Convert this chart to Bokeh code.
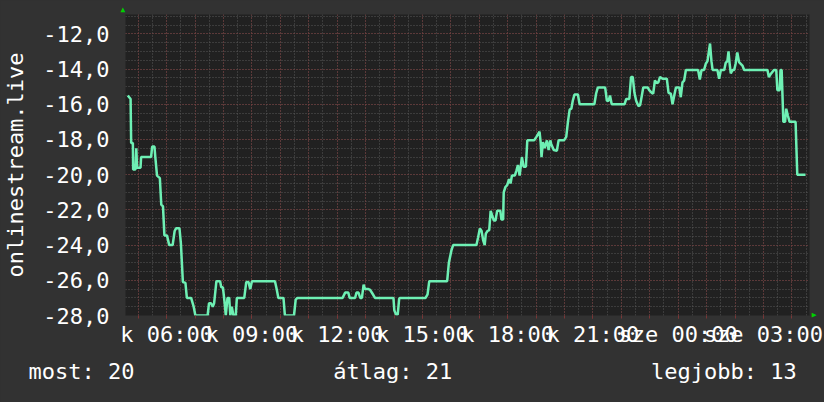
from bokeh.plotting import figure
from bokeh.models import (Range1d, FixedTicker, Grid, Title, GlobalInlineStyleSheet)
from bokeh.embed import file_html
from bokeh.resources import INLINE

# ---- data (hours since day-1 midnight, value) ----
hours = [4.63, 4.73, 4.75, 4.81, 4.82, 4.90, 4.93, 4.96, 5.08, 5.10, 5.45, 5.49, 5.57, 5.60, 5.66, 5.76,
         5.81, 5.87, 5.92, 6.01, 6.09, 6.21, 6.28, 6.33, 6.45, 6.50, 6.57, 6.66, 6.71, 6.86, 6.95, 7.01,
         7.44, 7.49, 7.56, 7.62, 7.67, 7.75, 7.88, 7.92, 7.98, 8.04, 8.08, 8.14, 8.20, 8.24, 8.29, 8.35,
         8.43, 8.47, 8.73, 8.80, 8.88, 8.94, 9.00, 9.81, 9.87, 9.93, 10.11, 10.16, 10.48, 10.54, 10.60,
         12.19, 12.28, 12.39, 12.44, 12.63, 12.68, 12.75, 12.81, 12.87, 12.93, 12.98, 13.10, 13.16, 13.24,
         13.33, 13.98, 14.01, 14.07, 14.13, 14.18, 14.21, 15.11, 15.18, 15.24, 15.87, 15.93, 16.02, 16.08,
         16.90, 16.96, 17.02, 17.08, 17.14, 17.19, 17.23, 17.29, 17.35, 17.40, 17.45, 17.51, 17.57, 17.63,
         17.74, 17.78, 17.84, 17.86, 17.92, 17.98, 18.05, 18.10, 18.15, 18.25, 18.31, 18.36, 18.42, 18.50,
         18.56, 18.64, 18.69, 18.93, 19.01, 19.12, 19.16, 19.19, 19.24, 19.30, 19.38, 19.44, 19.50, 19.53,
         19.62, 19.73, 19.79, 19.98, 20.06, 20.12, 20.18, 20.24, 20.29, 20.35, 20.47, 20.53, 21.05, 21.11,
         21.17, 21.43, 21.49, 21.55, 21.60, 21.66, 22.11, 22.17, 22.28, 22.34, 22.40, 22.46, 22.52, 22.60,
         22.66, 22.71, 22.77, 22.93, 22.98, 23.07, 23.12, 23.18, 23.24, 23.30, 23.36, 23.45, 23.60, 23.66,
         23.74, 23.80, 23.86, 23.92, 24.04, 24.09, 24.15, 24.21, 24.27, 24.70, 24.76, 24.82, 24.91, 24.97,
         25.03, 25.12, 25.17, 25.21, 25.38, 25.44, 25.50, 25.62, 25.67, 25.73, 25.77, 25.81, 25.85, 25.91,
         25.97, 26.02, 26.08, 26.14, 26.26, 26.32, 27.14, 27.19, 27.25, 27.37, 27.45, 27.49, 27.57, 27.60,
         27.64, 27.70, 27.76, 27.80, 27.86, 27.92, 28.13, 28.19, 28.48]
values = [-15.5, -15.7, -18.2, -18.2, -19.7, -19.7, -18.5, -19.6, -19.6, -19.0, -19.0, -18.4, -18.4, -19.0, -20.05, -20.2,
          -21.7, -21.8, -23.45, -23.45, -24.0, -24.0, -23.2, -23.05, -23.05, -23.9, -26.1, -26.15, -27.0, -27.0, -27.5, -28.0,
          -28.0, -27.3, -27.3, -27.5, -27.3, -26.05, -26.05, -26.4, -26.4, -27.3, -28.0, -27.0, -27.0, -28.0, -27.5, -28.0,
          -28.0, -27.0, -27.0, -26.1, -26.1, -26.5, -26.05, -26.05, -26.5, -27.0, -27.0, -28.0, -28.0, -27.1, -27.0,
          -27.0, -26.7, -26.7, -27.0, -27.0, -26.7, -26.7, -27.0, -27.0, -26.25, -26.5, -26.5, -26.55, -26.75,
          -27.0, -27.0, -27.7, -27.95, -27.95, -27.05, -27.0, -27.0, -26.8, -26.05, -26.05, -25.0, -24.3, -24.0,
          -24.0, -23.55, -23.05, -23.2, -23.75, -24.0, -23.35, -23.2, -23.15, -22.05, -22.3, -22.6, -22.6, -22.05,
          -22.05, -22.55, -22.55, -21.0, -20.7, -20.6, -20.25, -20.5, -20.05, -20.05, -19.75, -19.45, -20.05, -19.0,
          -19.55, -19.55, -18.05, -18.05, -17.85, -17.55, -18.15, -19.0, -18.15, -18.5, -18.05, -18.6, -18.05, -18.25,
          -18.6, -18.65, -18.05, -18.05, -17.85, -17.0, -16.3, -16.25, -15.8, -15.45, -15.45, -16.0, -16.0, -15.4,
          -15.05, -15.05, -15.8, -15.8, -15.5, -16.0, -16.0, -15.7, -15.7, -14.45, -14.45, -15.35, -15.8, -16.1,
          -16.05, -15.6, -15.05, -15.05, -15.2, -15.35, -15.4, -14.65, -14.8, -14.75, -14.45, -14.55, -14.55, -15.35,
          -15.4, -16.0, -15.5, -15.05, -15.05, -15.6, -14.75, -14.65, -14.05, -14.05, -14.6, -14.05, -14.05, -13.7,
          -13.55, -12.55, -13.55, -14.05, -14.05, -14.55, -14.05, -14.05, -13.65, -13.55, -13.0, -13.7, -14.25, -14.05,
          -14.05, -13.7, -13.05, -13.6, -13.8, -14.05, -14.05, -14.45, -14.3, -14.05, -14.05, -15.2, -15.2, -14.05,
          -14.05, -17.0, -17.0, -16.25, -16.65, -17.0, -17.0, -20.0, -20.0]

x_tick_hours = [6, 9, 12, 15, 18, 21, 24, 27]
x_tick_labels = ["k 06:00", "k 09:00", "k 12:00", "k 15:00", "k 18:00", "k 21:00", "sze 00:00", "sze 03:00"]
y_ticks = [-28, -26, -24, -22, -20, -18, -16, -14, -12]
y_tick_labels = ["-28,0", "-26,0", "-24,0", "-22,0", "-20,0", "-18,0", "-16,0", "-14,0", "-12,0"]
y_axis_title = "onlinestream.live"
legend_items = ["most: 20", "átlag: 21", "legjobb: 13"]

# ---- layout / style ----
W, H = 824, 402
FL, FT, FW, FH = 123, 14, 686, 301
X0, X1 = 4.551, 28.62
Y0, Y1 = -28.0, -10.9
BG = "#323232"
CANVAS = "#212121"
FG = "#ffffff"
LINE = "#6ef0b4"
GRID_MINOR = "#585858"
GRID_MAJOR = "#7a3636"
ARROW = "#00d000"
FONT = "DejaVu Sans Mono"
FS = "22px"

p = figure(width=W, height=H, output_backend="svg", toolbar_location=None,
           x_range=Range1d(X0, X1), y_range=Range1d(Y0, Y1),
           min_border_left=FL, min_border_right=W - FL - FW,
           min_border_top=FT, min_border_bottom=H - FT - FH)
p.stylesheets = [GlobalInlineStyleSheet(css="html,body{margin:0 !important;padding:0;background:%s;overflow:hidden}" % BG)]
p.background_fill_color = CANVAS
p.border_fill_color = BG
p.outline_line_color = None
p.xgrid.grid_line_color = None
p.ygrid.grid_line_color = None

# grids
half_hours = [h / 2 for h in range(9, 58)]
whole_hours = list(range(5, 29))
half_units = [v / 2 for v in range(-56, -21)]
p.add_layout(Grid(dimension=0, ticker=FixedTicker(ticks=half_hours), grid_line_color=GRID_MINOR,
                  grid_line_dash="1 2", grid_line_width=1))
p.add_layout(Grid(dimension=1, ticker=FixedTicker(ticks=half_units), grid_line_color=GRID_MINOR,
                  grid_line_dash="1 2", grid_line_width=1))
p.add_layout(Grid(dimension=0, ticker=FixedTicker(ticks=whole_hours), grid_line_color=GRID_MAJOR,
                  grid_line_dash="1 2", grid_line_width=1))
p.add_layout(Grid(dimension=1, ticker=FixedTicker(ticks=y_ticks), grid_line_color=GRID_MAJOR,
                  grid_line_dash="1 2", grid_line_width=1))

# x axis
xa = p.xaxis[0]
xa.ticker = FixedTicker(ticks=x_tick_hours, minor_ticks=whole_hours)
xa.major_label_overrides = {h: lab for h, lab in zip(x_tick_hours, x_tick_labels)}
xa.axis_line_color = None
xa.major_tick_line_color = GRID_MAJOR
xa.minor_tick_line_color = GRID_MAJOR
xa.major_tick_in = 0
xa.major_tick_out = 3
xa.minor_tick_in = 0
xa.minor_tick_out = 3
xa.major_label_standoff = 3
xa.major_label_text_font = FONT
xa.major_label_text_font_size = FS
xa.major_label_text_color = FG

# y axis
ya = p.yaxis[0]
ya.ticker = FixedTicker(ticks=y_ticks, minor_ticks=[])
ya.major_label_overrides = {t: lab for t, lab in zip(y_ticks, y_tick_labels)}
ya.axis_line_color = None
ya.major_tick_line_color = None
ya.major_tick_in = 0
ya.major_tick_out = 0
ya.minor_tick_line_color = None
ya.major_label_standoff = 16
ya.major_label_text_font = FONT
ya.major_label_text_font_size = FS
ya.major_label_text_color = FG
ya.axis_label = y_axis_title
ya.axis_label_text_font = FONT
ya.axis_label_text_font_size = FS
ya.axis_label_text_font_style = "normal"
ya.axis_label_text_color = FG
ya.axis_label_standoff = 12

# data line
p.line(hours, values, line_color=LINE, line_width=2.5)

# legend row (monospace, aligned with non-breaking spaces) under the x axis
gap = "\u00a0" * 15
legend_text = legend_items[0] + gap + legend_items[1] + gap + legend_items[2]
p.add_layout(Title(text=legend_text, align="left", offset=-97, standoff=14,
                   text_font=FONT, text_font_size=FS, text_font_style="normal",
                   text_color=FG, background_fill_color=None), "below")

# small green axis arrows
p.add_layout(Title(text="\u25b2", align="left", offset=-5, standoff=1,
                   text_font=FONT, text_font_size="8px", text_font_style="normal",
                   text_color=ARROW), "above")
p.add_layout(Title(text="\u25b2", align="right", offset=-2, standoff=0,
                   text_font=FONT, text_font_size="8px", text_font_style="normal",
                   text_color=ARROW), "right")

open("out.html", "w").write(file_html(p, INLINE))
